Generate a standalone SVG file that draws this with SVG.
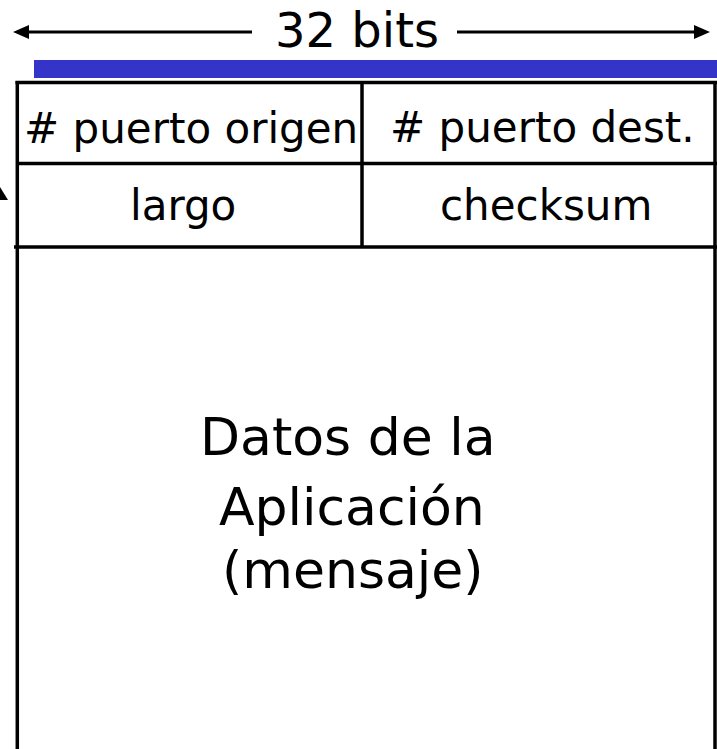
<svg xmlns="http://www.w3.org/2000/svg" width="717" height="749" viewBox="0 0 717 749">
  <style>
    .t { font-family: "DejaVu Sans", "Liberation Sans", sans-serif; fill: #000; }
    .cell { font-size: 42px; }
    .big { font-size: 52px; }
    .ln { stroke: #000; stroke-width: 3.5; fill: none; }
    .arr { stroke: #000; stroke-width: 3; fill: none; }
  </style>
  <defs>
    <marker id="ah" viewBox="0 0 16 14" refX="0" refY="7" markerWidth="16" markerHeight="14" markerUnits="userSpaceOnUse" orient="auto">
      <path d="M0,0 L16,7 L0,14 z" fill="#000"/>
    </marker>
  </defs>
  <rect width="717" height="749" fill="#fff"/>

  <g id="width-label">
    <text class="t" x="357" y="47" font-size="48" text-anchor="middle">32 bits</text>
  </g>

  <g id="connectors">
    <line class="arr" x1="252" y1="32" x2="29" y2="32" marker-end="url(#ah)"/>
    <line class="arr" x1="457" y1="32" x2="694" y2="32" marker-end="url(#ah)"/>
    <polygon points="-8,200 0,187 8,200" fill="#000"/>
  </g>

  <g id="blue-bar">
    <rect x="34" y="60" width="683" height="18" fill="#3434c9"/>
  </g>

  <g id="table">
    <line class="ln" x1="17.3" y1="81" x2="17.3" y2="749"/>
    <line class="ln" x1="715" y1="81" x2="715" y2="749"/>
    <line class="ln" x1="15.5" y1="82.5" x2="717" y2="82.5"/>
    <line class="ln" x1="17" y1="163.5" x2="717" y2="163.5"/>
    <line class="ln" x1="14" y1="247" x2="717" y2="247"/>
    <line class="ln" x1="362" y1="82" x2="362" y2="247"/>
  </g>

  <g id="src-port">
    <text class="t cell" x="24" y="143"># puerto origen</text>
  </g>
  <g id="dst-port">
    <text class="t cell" x="390" y="142"># puerto dest.</text>
  </g>
  <g id="length">
    <text class="t cell" x="130" y="220">largo</text>
  </g>
  <g id="checksum">
    <text class="t cell" x="440" y="220">checksum</text>
  </g>
  <g id="data">
    <text class="t big" x="200" y="455">Datos de la</text>
    <text class="t big" x="219" y="525">Aplicación</text>
    <text class="t big" x="222" y="588">(mensaje)</text>
  </g>
</svg>
